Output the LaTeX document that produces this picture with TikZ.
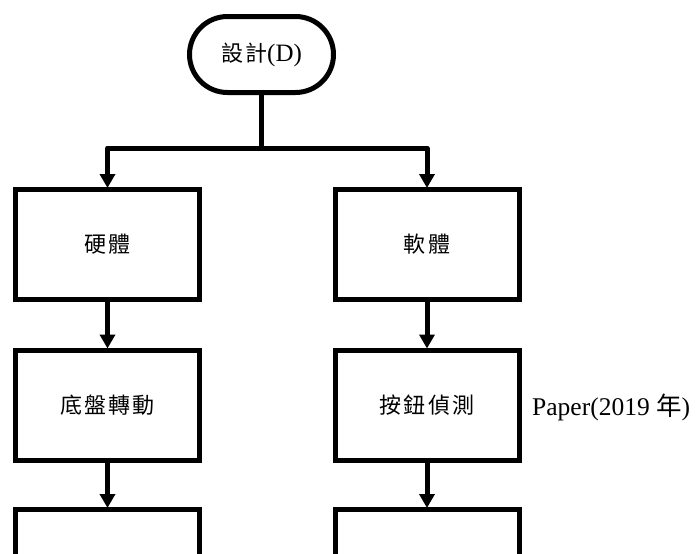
\documentclass[tikz,border=0pt]{standalone}
\usepackage{fontspec}
\setmainfont{Liberation Serif}
\newfontfamily\cjk[LetterSpace=10]{Noto Sans CJK TC}
\newfontfamily\cjkplain{Noto Sans CJK TC}
\usetikzlibrary{arrows.meta}
\begin{document}
\begin{tikzpicture}[x=1pt,y=-1pt,
  box/.style={draw,line width=5pt,minimum width=184pt,minimum height=110pt,inner sep=0pt,font=\cjk\fontsize{22}{26}\selectfont},
  term/.style={draw,line width=5pt,minimum width=144pt,minimum height=76pt,rounded corners=38pt,inner sep=0pt,font=\fontsize{25}{30}\selectfont},
  conn/.style={line width=5pt,line join=round},
  arr/.style={conn,-{Triangle[width=15pt,length=14pt]},shorten >=-1pt}]
\useasboundingbox (0,0) rectangle (697,554);
\clip (0,0) rectangle (697,554);
\fill[white] (0,0) rectangle (697,554);
\node[term] (top) at (261.5,54.5) {{\cjk\fontsize{22}{26}\selectfont 設計}(D)};
\node[box] (h1) at (107.5,244.5) {硬體};
\node[box] (s1) at (427,244.5) {軟體};
\node[box] (h2) at (107.5,405) {底盤轉動};
\node[box] (s2) at (427,405) {按鈕偵測};
\node[box] (h3) at (107.5,564.5) {};
\node[box] (s3) at (427,564.5) {};
\coordinate (j) at (261.5,148);
\draw[conn] (top.south) -- (j);
\draw[arr] (j) -| (h1);
\draw[arr] (j) -| (s1);
\draw[arr] (h1) -- (h2);
\draw[arr] (s1) -- (s2);
\draw[arr] (h2) -- (h3);
\draw[arr] (s2) -- (s3);
\node[anchor=west,inner sep=0pt,font=\fontsize{25.5}{30}\selectfont] (paper) at (532,407) {Paper(2019 {\cjkplain 年})};
\end{tikzpicture}
\end{document}
